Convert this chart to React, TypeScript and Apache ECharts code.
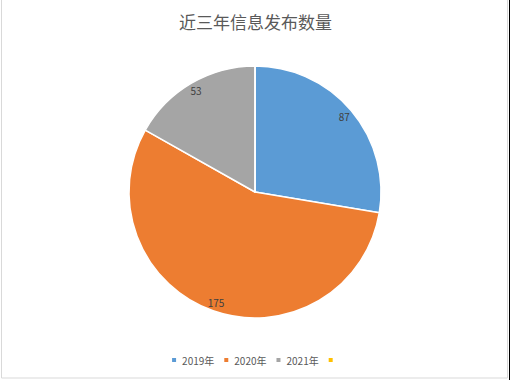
import React, { useEffect, useRef } from "react";
import * as echarts from "echarts";

const titleText = "近三年信息发布数量";
const categories = ["2019年", "2020年", "2021年", " "];
const values = [87, 175, 53, 0];
const colors = ["#5B9BD5", "#ED7D31", "#A5A5A5", "#FFC000"];

export default function App() {
  const ref = useRef<HTMLDivElement>(null);
  useEffect(() => {
    if (!ref.current) return;
    const chart = echarts.init(ref.current, undefined, { renderer: "svg" });
    const font = "'Noto Sans CJK SC', 'Microsoft YaHei', sans-serif";
    const baseData = categories.map((name, i) => ({
      name,
      value: values[i],
      itemStyle: { color: colors[i] },
      label: { show: false },
    }));
    const labelData = categories.map((name, i) => ({
      name,
      value: values[i],
      itemStyle: { color: "transparent" },
      label: { show: values[i] > 0 },
    }));
    chart.setOption({
      animation: false,
      backgroundColor: "#ffffff",
      title: {
        text: titleText,
        left: "center",
        top: 8,
        textStyle: { fontSize: 17, fontWeight: "normal", color: "#595959", fontFamily: font },
      },
      legend: {
        data: categories,
        bottom: 10,
        left: "center",
        itemWidth: 6,
        itemHeight: 6,
        itemGap: 8,
        icon: "rect",
        textStyle: { fontSize: 10, color: "#595959", fontFamily: font },
      },
      color: colors,
      graphic: [
        {
          type: "rect",
          shape: { x: 1.5, y: -1, width: 506, height: 379 },
          style: { fill: "none", stroke: "#D9D9D9", lineWidth: 1 },
          silent: true,
        },
        {
          type: "line",
          shape: { x1: 509.5, y1: 0, x2: 509.5, y2: 380 },
          style: { stroke: "#000000", lineWidth: 1 },
          silent: true,
        },
      ],
      series: [
        {
          type: "pie",
          center: [255, 192],
          radius: [0, 126],
          startAngle: 90,
          clockwise: true,
          data: baseData,
          label: { show: false },
          labelLine: { show: false },
          itemStyle: { borderColor: "#ffffff", borderWidth: 1.5 },
          emphasis: { disabled: true },
        },
        {
          type: "pie",
          center: [255, 192],
          radius: [102, 126],
          startAngle: 90,
          clockwise: true,
          silent: true,
          data: labelData,
          label: {
            position: "inside",
            rotate: 0,
            formatter: "{c}",
            fontSize: 10,
            color: "#404040",
            fontFamily: font,
          },
          labelLine: { show: false },
          emphasis: { disabled: true },
        },
      ],
    });
    return () => chart.dispose();
  }, []);
  return (
    <div
      ref={ref}
      style={{ position: "fixed", left: 0, top: 0, width: 511, height: 380 }}
    />
  );
}
